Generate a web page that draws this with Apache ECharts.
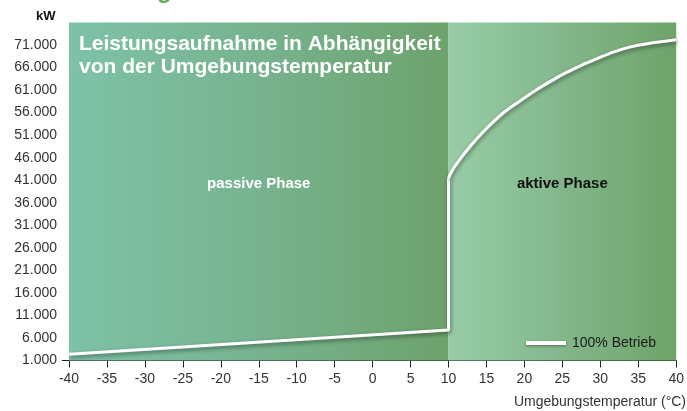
<!DOCTYPE html>
<html>
<head>
<meta charset="utf-8">
<script src="https://cdn.jsdelivr.net/npm/echarts@6/dist/echarts.min.js"></script>
<style>
html,body{margin:0;padding:0;background:#fff;}
#c{width:687px;height:411px;}
</style>
</head>
<body>
<div id="c"></div>
<script>
// ---- data ----
const passiveX = [-40, 10, 10];
const passiveY = [2400, 7750, 41500];
const activeX = [10, 10.8, 13, 15.2, 17.4, 19.6, 21.8, 24, 25.3, 27.5, 29.6, 31.8, 34, 36.2, 40];
const activeY = [41500, 44000, 48800, 52800, 56200, 58800, 61300, 63500, 64700, 66500, 68000, 69500, 70600, 71300, 72150];
const phaseNames = ['passive Phase', 'aktive Phase'];
const phaseBounds = [[-40, 10], [10, 40]];
const xMin = -40, xMax = 40, xStep = 5;
const yMin = 1000, yMax = 76000, yStep = 5000;
const seriesName = '100% Betrieb';
const titleLines = ['Leistungsaufnahme in Abhängigkeit', 'von der Umgebungstemperatur'];
const xAxisTitle = 'Umgebungstemperatur (°C)';
const yAxisTitle = 'kW';

const FONT = '"Liberation Sans", Arial, sans-serif';

function fmt(v) {
  const k = Math.floor(v / 1000);
  const r = String(v % 1000).padStart(3, '0');
  return k + '.' + r;
}

const lineStyle = {
  color: '#ffffff', width: 3,
  shadowColor: 'rgba(0,0,0,0.45)', shadowBlur: 4, shadowOffsetY: 2, shadowOffsetX: 1
};

const grad = (stops) => ({
  type: 'linear', x: 0, y: 0, x2: 1, y2: 0,
  colorStops: stops.map(s => ({offset: s[0], color: s[1]}))
});

const chart = echarts.init(document.getElementById('c'), null, {renderer: 'canvas'});
chart.setOption({
  animation: false,
  textStyle: {fontFamily: FONT},
  title: {
    text: titleLines.join('\n'),
    left: 79, top: 33, padding: 0,
    textStyle: {color: '#ffffff', fontSize: 21, fontWeight: 'bold', lineHeight: 23, fontFamily: FONT}
  },
  legend: {
    data: [seriesName],
    left: 526, top: 336, padding: 0,
    icon: 'rect', itemWidth: 40, itemHeight: 4, itemGap: 5,
    itemStyle: {color: '#ffffff', shadowColor: 'rgba(0,0,0,0.4)', shadowBlur: 3, shadowOffsetY: 1},
    textStyle: {color: '#1a1a1a', fontSize: 14, fontFamily: FONT, padding: [0, 0, 0, 1]}
  },
  grid: {left: 69, right: 8, top: 22.5, bottom: 50.5, containLabel: false},
  xAxis: {
    type: 'value', min: xMin, max: xMax, interval: xStep,
    axisLine: {show: true, lineStyle: {color: '#222', width: 1}},
    axisTick: {show: true, length: 7, lineStyle: {color: '#222'}},
    axisLabel: {color: '#333', fontSize: 14, margin: 12, fontFamily: FONT},
    splitLine: {show: false}
  },
  yAxis: {
    type: 'value', min: yMin, max: yMax, interval: yStep,
    axisLine: {show: false},
    axisTick: {show: false},
    axisLabel: {color: '#333', fontSize: 14, margin: 12, showMaxLabel: false, fontFamily: FONT,
      formatter: v => (v >= yMax ? '' : fmt(v))},
    splitLine: {show: false}
  },
  series: [
    {
      type: 'line', name: '_bg', data: [], z: 1, silent: true,
      markArea: {
        silent: true,
        data: [
          [{xAxis: phaseBounds[0][0], name: phaseNames[0],
            itemStyle: {color: grad([[0, '#7ec2a7'], [0.5, '#77b38f'], [1, '#6da26c']])},
            label: {show: true, position: 'inside', offset: [0, -8], color: '#ffffff', fontSize: 15, fontWeight: 'bold', fontFamily: FONT}},
           {xAxis: phaseBounds[0][1]}],
          [{xAxis: phaseBounds[1][0], name: phaseNames[1],
            itemStyle: {color: grad([[0, '#98cca6'], [0.45, '#85b98e'], [1, '#6fa36a']])},
            label: {show: true, position: 'inside', offset: [0, -8], color: '#111111', fontSize: 15, fontWeight: 'bold', fontFamily: FONT}},
           {xAxis: phaseBounds[1][1]}]
        ]
      }
    },
    {
      type: 'line', name: seriesName, z: 3, symbol: 'none',
      data: passiveX.map((x, i) => [x, passiveY[i]]),
      lineStyle: lineStyle, itemStyle: {color: '#ffffff'}
    },
    {
      type: 'line', name: seriesName, z: 3, symbol: 'none', smooth: 0.3,
      data: activeX.map((x, i) => [x, activeY[i]]),
      lineStyle: lineStyle, itemStyle: {color: '#ffffff'}
    }
  ]
});

const p0 = chart.convertToPixel({gridIndex: 0}, [xMin, yMin]);
chart.setOption({
  graphic: [
    {type: 'line', shape: {x1: p0[0] - 7, y1: p0[1], x2: p0[0], y2: p0[1]}, style: {stroke: '#222', lineWidth: 1}, z: 10},
    {type: 'text', right: 1, top: 395, style: {text: xAxisTitle, fill: '#333', font: '14px ' + FONT}},
    {type: 'text', left: 36, top: 10, style: {text: yAxisTitle, fill: '#111', font: 'bold 13px ' + FONT}},
    {type: 'text', left: 157, top: -21, style: {text: 'g', fill: '#6aa862', font: 'bold 24px ' + FONT}}
  ]
});
</script>
</body>
</html>
